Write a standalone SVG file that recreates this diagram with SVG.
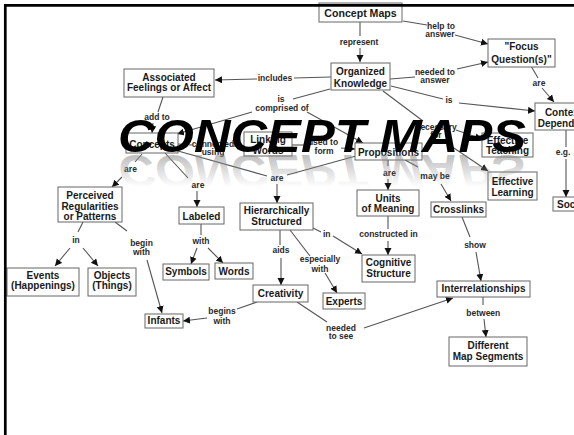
<svg xmlns="http://www.w3.org/2000/svg" width="574" height="435" viewBox="0 0 574 435">
<defs>
<marker id="ah" markerUnits="userSpaceOnUse" markerWidth="8" markerHeight="8" refX="7" refY="3.5" orient="auto">
<path d="M0,0 L7,3.5 L0,7 Z" fill="#111"/>
</marker>
<linearGradient id="rg" gradientUnits="userSpaceOnUse" x1="0" y1="152" x2="0" y2="120">
<stop offset="0" stop-color="#8a8a8a" stop-opacity="0.55"/>
<stop offset="1" stop-color="#8a8a8a" stop-opacity="0"/>
</linearGradient>
<style>
.n rect{fill:#fff;stroke:#666;stroke-width:1}
.n text{font-family:"Liberation Sans",Arial,sans-serif;font-weight:bold;font-size:10px;fill:#1a1a1a;text-anchor:middle}
.l text{font-family:"Liberation Sans",Arial,sans-serif;font-weight:bold;font-size:8.5px;fill:#2a2a2a;text-anchor:middle}
.c line{stroke:#555;stroke-width:1.1;fill:none}
.c .a{marker-end:url(#ah)}
.title{font-family:"Liberation Sans",Arial,sans-serif;font-weight:bold;font-style:italic;font-size:46px}
</style>
</defs>
<rect width="574" height="435" fill="#fff"/>

<g id="connectors" class="c">
<line x1="360" y1="22" x2="360" y2="36"/>
<line class="a" x1="360" y1="48" x2="360" y2="62"/>
<line x1="403" y1="21" x2="427" y2="25"/>
<line class="a" x1="455" y1="35" x2="488" y2="44"/>
<line x1="390" y1="79" x2="415" y2="77"/>
<line class="a" x1="457" y1="69" x2="488" y2="62"/>
<line x1="531" y1="66" x2="538" y2="78"/>
<line class="a" x1="542" y1="88" x2="554" y2="102"/>
<line x1="391" y1="86" x2="443" y2="99"/>
<line class="a" x1="459" y1="103" x2="535" y2="111"/>
<line x1="331" y1="77" x2="294" y2="78"/>
<line class="a" x1="257" y1="79" x2="215" y2="80"/>
<line x1="330" y1="89" x2="293" y2="99"/>
<line class="a" x1="252" y1="112" x2="177" y2="134"/>
<line class="a" x1="307" y1="112" x2="363" y2="143"/>
<line x1="383" y1="91" x2="423" y2="121"/>
<line class="a" x1="456" y1="130" x2="482" y2="139"/>
<line class="a" x1="442" y1="140" x2="488" y2="171"/>
<line x1="388" y1="160" x2="388" y2="166"/>
<line class="a" x1="388" y1="179" x2="388" y2="190"/>
<line x1="405" y1="160" x2="418" y2="167"/>
<line class="a" x1="441" y1="184" x2="451" y2="201"/>
<line x1="388" y1="216" x2="388" y2="229"/>
<line class="a" x1="388" y1="241" x2="388" y2="255"/>
<line x1="462" y1="217" x2="470" y2="237"/>
<line class="a" x1="476" y1="252" x2="481" y2="281"/>
<line x1="483" y1="297" x2="483" y2="305"/>
<line class="a" x1="484" y1="319" x2="486" y2="337"/>
<line x1="297" y1="302" x2="327" y2="322"/>
<line class="a" x1="364" y1="328" x2="453" y2="298"/>
<line x1="257" y1="302" x2="237" y2="309"/>
<line class="a" x1="207" y1="318" x2="183" y2="321"/>
<line x1="280" y1="230" x2="280" y2="245"/>
<line class="a" x1="281" y1="258" x2="281" y2="285"/>
<line x1="313" y1="228" x2="321" y2="232"/>
<line class="a" x1="333" y1="236" x2="362" y2="254"/>
<line x1="290" y1="230" x2="310" y2="256"/>
<line class="a" x1="325" y1="273" x2="337" y2="293"/>
<line x1="142" y1="154" x2="135" y2="162"/>
<line class="a" x1="122" y1="177" x2="112" y2="187"/>
<line x1="165" y1="153" x2="188" y2="178"/>
<line class="a" x1="197" y1="191" x2="197" y2="207"/>
<line x1="178" y1="151" x2="267" y2="176"/>
<line x1="356" y1="156" x2="287" y2="175"/>
<line class="a" x1="277" y1="184" x2="277" y2="203"/>
<line x1="178" y1="144" x2="192" y2="145"/>
<line class="a" x1="234" y1="146" x2="244" y2="146"/>
<line x1="292" y1="145" x2="306" y2="145"/>
<line class="a" x1="341" y1="148" x2="355" y2="149"/>
<line x1="163" y1="97" x2="158" y2="112"/>
<line class="a" x1="153" y1="123" x2="152" y2="133"/>
<line x1="566" y1="130" x2="566" y2="147"/>
<line class="a" x1="566" y1="159" x2="566" y2="197"/>
<line x1="83" y1="222" x2="78" y2="232"/>
<line class="a" x1="70" y1="248" x2="55" y2="266"/>
<line class="a" x1="83" y1="248" x2="98" y2="266"/>
<line x1="115" y1="222" x2="127" y2="231"/>
<line class="a" x1="147" y1="260" x2="162" y2="313"/>
<line x1="201" y1="224" x2="201" y2="235"/>
<line class="a" x1="197" y1="248" x2="191" y2="264"/>
<line class="a" x1="208" y1="248" x2="223" y2="263"/>
</g>

<g id="labels" class="l">
<text x="275" y="81">includes</text>
<text x="281" y="101.5">is</text>
<text x="282" y="110.5">comprised of</text>
<text x="157" y="120">add to</text>
<text x="359" y="44.5">represent</text>
<text x="441" y="28.5">help to</text>
<text x="440" y="37">answer</text>
<text x="435" y="75">needed to</text>
<text x="435" y="83">answer</text>
<text x="449" y="103.3">is</text>
<text x="539" y="86">are</text>
<text x="563" y="154.5">e.g.</text>
<text x="436" y="129.5">necessary</text>
<text x="436" y="138">for</text>
<text x="213" y="147">connected</text>
<text x="213" y="155">using</text>
<text x="323" y="145">used to</text>
<text x="324" y="153.5">form</text>
<text x="130.5" y="172">are</text>
<text x="198" y="187.5">are</text>
<text x="277" y="181">are</text>
<text x="389.5" y="176">are</text>
<text x="435" y="179">may be</text>
<text x="76" y="242.7">in</text>
<text x="141.5" y="245.5">begin</text>
<text x="141.5" y="255">with</text>
<text x="201" y="244">with</text>
<text x="281" y="252.7">aids</text>
<text x="326.7" y="236.7">in</text>
<text x="320" y="261.5">especially</text>
<text x="320" y="271.7">with</text>
<text x="222" y="313.7">begins</text>
<text x="222" y="324.3">with</text>
<text x="341" y="331">needed</text>
<text x="341" y="339.3">to see</text>
<text x="388.5" y="237.3">constructed in</text>
<text x="475" y="248.3">show</text>
<text x="483.3" y="316">between</text>
</g>

<g id="n-concept-maps" class="n"><rect x="319" y="3" width="83" height="19"/><text x="360.5" y="17" style="font-size:10.6px">Concept Maps</text></g>
<g id="n-focus" class="n"><rect x="488" y="39" width="67" height="28"/><text x="521.5" y="50">"Focus</text><text x="521.5" y="62.5">Question(s)"</text></g>
<g id="n-organized" class="n"><rect x="331" y="63" width="59" height="27"/><text x="360.5" y="75">Organized</text><text x="360.5" y="86.5">Knowledge</text></g>
<g id="n-context" class="n"><rect x="535" y="103" width="57" height="27"/><text x="563.5" y="116">Context</text><text x="563.5" y="127">Dependent</text></g>
<g id="n-associated" class="n"><rect x="124" y="69" width="90" height="28"/><text x="169" y="80.5">Associated</text><text x="169" y="91">Feelings or Affect</text></g>
<g id="n-concepts" class="n"><rect x="126" y="133" width="52" height="20"/><text x="152" y="147.5">Concepts</text></g>
<g id="n-linking" class="n"><rect x="244" y="132" width="48" height="24"/><text x="268" y="143">Linking</text><text x="268" y="154">Words</text></g>
<g id="n-propositions" class="n"><rect x="355" y="143" width="67" height="17"/><text x="388.5" y="155.5">Propositions</text></g>
<g id="n-eff-teaching" class="n"><rect x="482" y="133" width="51" height="24"/><text x="507.5" y="143.5">Effective</text><text x="507.5" y="154">Teaching</text></g>
<g id="n-eff-learning" class="n"><rect x="488" y="172" width="49" height="28"/><text x="512.5" y="185">Effective</text><text x="512.5" y="195.5">Learning</text></g>
<g id="n-social" class="n"><rect x="553" y="197" width="40" height="14"/><text x="557" y="207.5" style="text-anchor:start">Social</text></g>
<g id="n-perceived" class="n"><rect x="58" y="187" width="64" height="35"/><text x="90" y="198.5">Perceived</text><text x="90" y="209.5">Regularities</text><text x="90" y="220">or Patterns</text></g>
<g id="n-labeled" class="n"><rect x="179" y="207" width="45" height="17"/><text x="201.5" y="219.5">Labeled</text></g>
<g id="n-hierarchically" class="n"><rect x="240" y="203" width="73" height="27"/><text x="276.5" y="213.5">Hierarchically</text><text x="276.5" y="224.5">Structured</text></g>
<g id="n-units" class="n"><rect x="357" y="190" width="62" height="26"/><text x="388" y="201.5">Units</text><text x="388" y="212">of Meaning</text></g>
<g id="n-crosslinks" class="n"><rect x="431" y="202" width="55" height="15"/><text x="458.5" y="213.3">Crosslinks</text></g>
<g id="n-events" class="n"><rect x="7" y="268" width="72" height="28"/><text x="43" y="278.5">Events</text><text x="43" y="289">(Happenings)</text></g>
<g id="n-objects" class="n"><rect x="88" y="268" width="48" height="28"/><text x="112" y="278.5">Objects</text><text x="112" y="289">(Things)</text></g>
<g id="n-symbols" class="n"><rect x="163" y="264" width="46" height="16"/><text x="186" y="275">Symbols</text></g>
<g id="n-words" class="n"><rect x="215" y="263" width="38" height="16"/><text x="234" y="275">Words</text></g>
<g id="n-creativity" class="n"><rect x="253" y="285" width="55" height="17"/><text x="280.5" y="296.5">Creativity</text></g>
<g id="n-experts" class="n"><rect x="323" y="293" width="42" height="16"/><text x="344" y="304.5">Experts</text></g>
<g id="n-cognitive" class="n"><rect x="362" y="255" width="53" height="27"/><text x="388.5" y="265.5">Cognitive</text><text x="388.5" y="277">Structure</text></g>
<g id="n-infants" class="n"><rect x="145" y="314" width="38" height="14"/><text x="164" y="324">Infants</text></g>
<g id="n-interrelationships" class="n"><rect x="437" y="281" width="93" height="16"/><text x="483.5" y="292">Interrelationships</text></g>
<g id="n-different" class="n"><rect x="449" y="337" width="78" height="29"/><text x="488" y="349">Different</text><text x="488" y="359.5">Map Segments</text></g>

<g id="title">
<g transform="translate(0,307) scale(1,-1)"><text class="title" x="118" y="152" textLength="408" lengthAdjust="spacingAndGlyphs" fill="url(#rg)">CONCEPT MAPS</text></g>
<text class="title" x="118" y="152" textLength="408" lengthAdjust="spacingAndGlyphs" fill="#000">CONCEPT MAPS</text>
</g>

<path d="M5.3,435 V5.3 H574" fill="none" stroke="#000" stroke-width="2.7"/>
</svg>
